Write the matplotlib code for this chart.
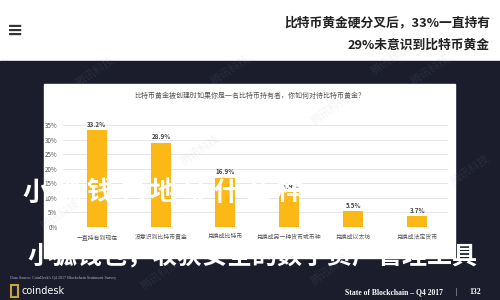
import matplotlib
matplotlib.use("Agg")
import matplotlib.pyplot as plt
from matplotlib.patches import Rectangle

plt.rcParams['font.family'] = ['Noto Sans CJK SC', 'DejaVu Sans']

# chart data
categories = ["一直持有到现在", "没意识到比特币黄金", "兑换成比特币",
              "兑换成另一种货币或币种", "兑换成以太坊", "兑换成法定货币"]
shares = [33.2, 28.9, 16.9, 11.9, 5.5, 3.7]
y_ticks = [0, 5, 10, 15, 20, 25, 30, 35]

chart_title = "比特币黄金被创建时如果你是一名比特币持有者，你如何对待比特币黄金？"
header_lines = ["比特币黄金硬分叉后，33%一直持有", "29%未意识到比特币黄金"]
overlay_1 = "小狐钱包地址什么样"
overlay_2 = "小狐钱包，收获安全的数字资产管理工具"
source_note = "Data Source: CoinDesk's Q4 2017 Blockchain Sentiment Survey"
footer_right = "State of Blockchain \u2013 Q4 2017"
page_no = "132"

W, H = 500, 300
navy = "#1b1d2d"
gold = "#fbb817"


def fx(px):
    return px / W


def fy(py):
    return 1 - py / H


fig = plt.figure(figsize=(5, 3), dpi=100)
fig.patch.set_facecolor("white")

# dark slide background and white chart panel
fig.patches.append(Rectangle((0, 0), 1, fy(61), transform=fig.transFigure,
                             color=navy, zorder=0))
fig.patches.append(Rectangle((fx(44), fy(258)), fx(455) - fx(44), fy(84) - fy(258),
                             transform=fig.transFigure, color="white", zorder=1))

# header
fig.text(fx(15), fy(30), "\u2261", fontsize=14, fontweight="bold", color="#333333",
         ha="center", va="center", family="DejaVu Sans")
fig.text(fx(490), fy(23), header_lines[0], fontsize=9.2, fontweight="bold",
         color="#222222", ha="right", va="center")
fig.text(fx(490), fy(45), header_lines[1], fontsize=9.2, fontweight="bold",
         color="#222222", ha="right", va="center")

# bar chart
ax = fig.add_axes([fx(63), fy(227), fx(448) - fx(63), fy(125) - fy(227)])
ax.set_zorder(3)
ax.set_facecolor("white")
x = list(range(len(categories)))
ax.bar(x, shares, width=0.31, color=gold, zorder=3)
for xi, v in zip(x, shares):
    ax.text(xi, v + 0.8, f"{v}%", ha="center", va="bottom", fontsize=4.5,
            color="#444444", fontweight="bold", clip_on=False)
ax.set_xlim(-0.53, 5.48)
ax.set_ylim(0, 35)
ax.set_yticks(y_ticks)
ax.set_yticklabels([f"{t}%" for t in y_ticks], fontsize=4.5, color="#555555")
ax.set_xticks(x)
ax.set_xticklabels(categories, fontsize=4.2, color="#555555")
ax.tick_params(length=0, axis="y", pad=4)
ax.tick_params(length=0, axis="x", pad=5)
ax.grid(axis="y", color="#e3e3e3", linewidth=0.6, zorder=0)
for s in ax.spines.values():
    s.set_visible(False)

fig.text(fx(250), fy(96), chart_title, fontsize=5, color="#555555",
         ha="center", va="center", zorder=4)

# faint watermarks
for wx, wy in [(95, 72), (230, 70), (390, 60), (60, 215), (200, 150),
               (330, 110), (470, 170), (160, 275), (330, 270), (430, 70)]:
    fig.text(fx(wx), fy(wy), "腾讯科技", fontsize=8, color="#9aa0b0", alpha=0.12,
             rotation=35, ha="center", va="center", zorder=6)

# white overlay captions
for i, ch in enumerate(overlay_1):
    fig.text(fx(36 + i * 31.75), fy(193), ch, fontsize=19, fontweight="bold",
             color="white", ha="center", va="center", zorder=5)
fig.text(fx(27), fy(257), overlay_2, fontsize=18, fontweight="bold",
         color="white", ha="left", va="center", zorder=5)

# footer
fig.text(fx(10), fy(278), source_note, fontsize=3.0, color="#b0b3c0",
         ha="left", va="center", family="Liberation Serif")
fig.patches.append(Rectangle((fx(11), fy(297)), fx(7), fy(285) - fy(297),
                             transform=fig.transFigure, facecolor="none",
                             edgecolor="#c9a23a", linewidth=1.5, zorder=2))
fig.text(fx(21), fy(291), "coindesk", fontsize=7, color="white",
         ha="left", va="center", family="DejaVu Sans")
fig.text(fx(443), fy(292), footer_right, fontsize=5.5, color="white",
         ha="right", va="center", family="Liberation Serif", fontweight="bold")
fig.text(fx(456), fy(292), "|", fontsize=5.5, color="white",
         ha="center", va="center", family="Liberation Serif")
fig.text(fx(481), fy(292), page_no, fontsize=5.5, color="white",
         ha="right", va="center", family="Liberation Serif", fontweight="bold")

fig.savefig("out.png", dpi=100)
